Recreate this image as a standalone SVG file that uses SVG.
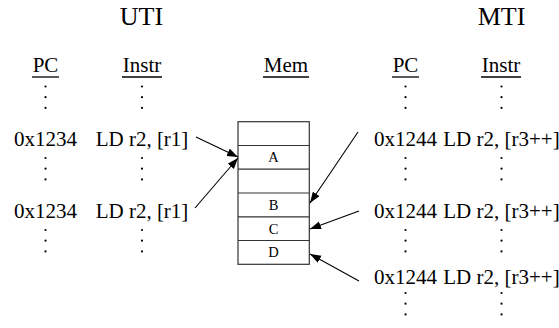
<svg xmlns="http://www.w3.org/2000/svg" width="559" height="328" viewBox="0 0 559 328">
  <defs>
    <style>
      text { font-family: "Liberation Serif", "Times New Roman", serif; fill: #000; }
      .title { font-size: 26px; text-anchor: middle; }
      .head { font-size: 21px; text-anchor: middle; }
      .cell { font-size: 21px; text-anchor: middle; }
      .mem { font-size: 14.5px; text-anchor: middle; }
      .uline { stroke: #000; stroke-width: 1.3; }
      .dot { fill: #000; }
      .box { fill: #fff; stroke: #333; stroke-width: 1.2; }
      .row { stroke: #333; stroke-width: 1.2; }
      .edge { stroke: #000; stroke-width: 1.1; fill: none; marker-end: url(#arrow); }
    </style>
    <marker id="arrow" markerUnits="userSpaceOnUse" markerWidth="12" markerHeight="10" refX="11" refY="4" orient="auto">
      <path d="M0,0 L11,4 L0,8 Z" fill="#000"/>
    </marker>
    <g id="vdots">
      <circle class="dot" cx="0" cy="0" r="1.1"/>
      <circle class="dot" cx="0" cy="10.7" r="1.1"/>
      <circle class="dot" cx="0" cy="21.4" r="1.1"/>
    </g>
  </defs>

  <rect width="559" height="328" fill="#fff"/>

  <!-- section titles -->
  <g id="title-uti"><text class="title" x="141.5" y="25">UTI</text></g>
  <g id="title-mti"><text class="title" x="501.5" y="25">MTI</text></g>

  <!-- column headers -->
  <g id="head-uti-pc"><text class="head" x="45.5" y="72">PC</text><line class="uline" x1="32" y1="77" x2="59" y2="77"/></g>
  <g id="head-uti-instr"><text class="head" x="142" y="72">Instr</text><line class="uline" x1="122" y1="77" x2="162" y2="77"/></g>
  <g id="head-mem"><text class="head" x="286" y="72">Mem</text><line class="uline" x1="263" y1="77" x2="309" y2="77"/></g>
  <g id="head-mti-pc"><text class="head" x="405.5" y="72">PC</text><line class="uline" x1="392" y1="77" x2="419" y2="77"/></g>
  <g id="head-mti-instr"><text class="head" x="501" y="72">Instr</text><line class="uline" x1="481" y1="77" x2="521" y2="77"/></g>

  <!-- UTI column entries -->
  <g id="uti-pc">
    <use href="#vdots" x="45.5" y="86.5"/>
    <text class="cell" x="45.5" y="146">0x1234</text>
    <use href="#vdots" x="45.5" y="158"/>
    <text class="cell" x="45.5" y="218">0x1234</text>
    <use href="#vdots" x="45.5" y="230"/>
  </g>
  <g id="uti-instr">
    <use href="#vdots" x="142" y="86.5"/>
    <text class="cell" x="142" y="146">LD r2, [r1]</text>
    <use href="#vdots" x="142" y="158"/>
    <text class="cell" x="142" y="218">LD r2, [r1]</text>
    <use href="#vdots" x="142" y="230"/>
  </g>

  <!-- MTI column entries -->
  <g id="mti-pc">
    <use href="#vdots" x="405.5" y="86.5"/>
    <text class="cell" x="405.5" y="146">0x1244</text>
    <use href="#vdots" x="405.5" y="158"/>
    <text class="cell" x="405.5" y="218">0x1244</text>
    <use href="#vdots" x="405.5" y="230"/>
    <text class="cell" x="405.5" y="284">0x1244</text>
    <use href="#vdots" x="405.5" y="293"/>
  </g>
  <g id="mti-instr">
    <use href="#vdots" x="501.5" y="86.5"/>
    <text class="cell" x="501.5" y="146">LD r2, [r3++]</text>
    <use href="#vdots" x="501.5" y="158"/>
    <text class="cell" x="501.5" y="218">LD r2, [r3++]</text>
    <use href="#vdots" x="501.5" y="230"/>
    <text class="cell" x="501.5" y="284">LD r2, [r3++]</text>
    <use href="#vdots" x="501.5" y="293"/>
  </g>

  <!-- memory block -->
  <g id="memory">
    <rect class="box" x="238" y="121.7" width="71.3" height="142.6"/>
    <line class="row" x1="238" y1="145.5" x2="309.3" y2="145.5"/>
    <line class="row" x1="238" y1="169.2" x2="309.3" y2="169.2"/>
    <line class="row" x1="238" y1="193" x2="309.3" y2="193"/>
    <line class="row" x1="238" y1="216.8" x2="309.3" y2="216.8"/>
    <line class="row" x1="238" y1="240.5" x2="309.3" y2="240.5"/>
    <text class="mem" x="273.6" y="162">A</text>
    <text class="mem" x="273.6" y="209.5">B</text>
    <text class="mem" x="273.6" y="233.5">C</text>
    <text class="mem" x="273.6" y="257">D</text>
  </g>

  <!-- accesses -->
  <g id="connectors">
    <line class="edge" x1="196" y1="137" x2="238" y2="157"/>
    <line class="edge" x1="195" y1="208" x2="238" y2="158"/>
    <line class="edge" x1="358" y1="132" x2="310" y2="203"/>
    <line class="edge" x1="359" y1="211" x2="310" y2="229"/>
    <line class="edge" x1="359" y1="281" x2="310" y2="254"/>
  </g>
</svg>
